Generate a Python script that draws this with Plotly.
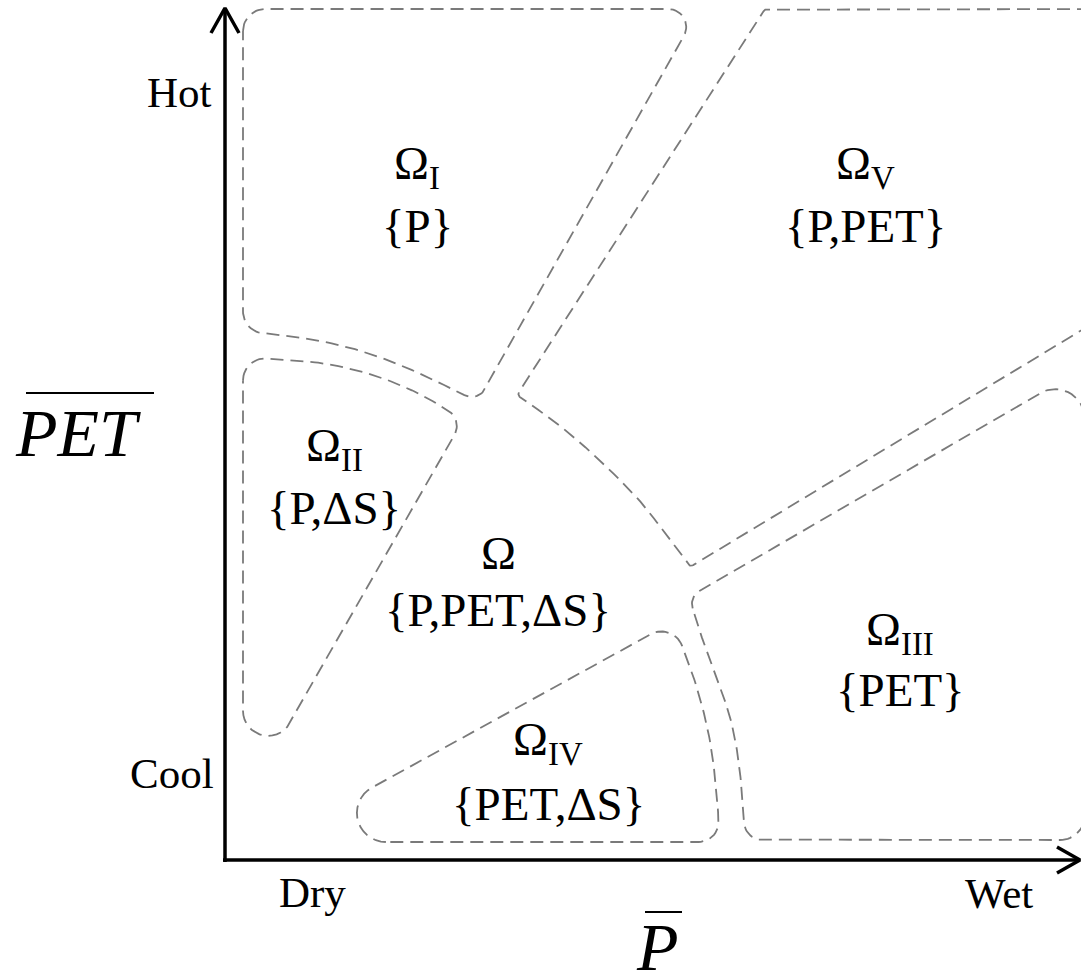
import numpy as np
import plotly.graph_objects as go

# ---------------- data (arbitrary units, origin = axis crossing) ----------------
X_TIP = 855          # end of the P axis (wet)
Y_TIP = 852          # end of the PET axis (hot)
SMOOTH = 99999       # radius meaning "smooth curve point"

# region outlines: vertex x, vertex y, corner radius
omega_I_x = [18, 474, 253, 195, 145, 95, 18]
omega_I_y = [851, 851, 458, 487, 507, 520, 529]
omega_I_r = [22, 18, 16, SMOOTH, SMOOTH, SMOOTH, 22]

omega_II_x = [18, 95, 145, 195, 238, 18]
omega_II_y = [503, 498, 487, 467, 440, 55]
omega_II_r = [22, SMOOTH, SMOOTH, SMOOTH, 18, 25]

omega_V_x = [885, 540, 292, 335, 375, 415, 443, 465, 885]      # open path
omega_V_y = [851, 851, 465, 435, 400, 360, 323, 293, 547]
omega_V_r = [0, 5, 4, SMOOTH, SMOOTH, SMOOTH, SMOOTH, 4, 0]

omega_III_x = [464, 860, 860, 520, 518, 514, 505, 485]
omega_III_y = [263, 493, 20, 20, 55, 100, 147, 197]
omega_III_r = [15, 30, 25, 20, SMOOTH, SMOOTH, SMOOTH, SMOOTH]

omega_IV_x = [48, 448, 472, 486, 492, 495]
omega_IV_y = [18, 238, 175, 118, 65, 18]
omega_IV_r = [29, 22, SMOOTH, SMOOTH, SMOOTH, 20]

# region labels
region_names = ["Ω<sub>I</sub>", "Ω<sub>V</sub>", "Ω<sub>II</sub>", "Ω", "Ω<sub>III</sub>", "Ω<sub>IV</sub>"]
region_sets = ["{P}", "{P,PET}", "{P,ΔS}", "{P,PET,ΔS}", "{PET}", "{PET,ΔS}"]
label_x = [192, 640, 109, 273, 675, 323]
name_y = [694, 694, 412, 307, 228, 118]
set_y = [634, 634, 352, 250, 170, 56]

# axis end labels
end_labels = ["Hot", "Cool", "Dry", "Wet"]
end_x = [-46, -53, 87, 774]
end_y = [768, 87, -32, -33]

# axis titles (with overbar)
title_text = ["PET", "P"]
title_x = [-147, 432]
title_y = [427, -87]
bar_x0 = [-199, 420]
bar_x1 = [-71, 457]
bar_y = [467, -52]

# ---------------- helpers ----------------
def rounded_path(xs, ys, rs, closed=True, n=16):
    P = np.column_stack([xs, ys]).astype(float)
    m = len(P)
    out = []
    for i in range(m):
        v = P[i]
        if not closed and (i == 0 or i == m - 1):
            out.append(v)
            continue
        a = P[(i - 1) % m]
        b = P[(i + 1) % m]
        la = np.linalg.norm(a - v)
        lb = np.linalg.norm(b - v)
        u = (a - v) / la
        w = (b - v) / lb
        th = np.arccos(np.clip(u @ w, -1, 1))
        r = rs[i]
        if r <= 0 or th < 1e-3 or th > np.pi - 1e-4:
            out.append(v)
            continue
        d = r / np.tan(th / 2)
        dmax = 0.5 * min(la, lb)
        if d > dmax:
            d = dmax
            r = d * np.tan(th / 2)
        A = v + u * d
        B = v + w * d
        bis = (u + w) / np.linalg.norm(u + w)
        C = v + bis * (r / np.sin(th / 2))
        t1 = np.arctan2(A[1] - C[1], A[0] - C[0])
        t2 = np.arctan2(B[1] - C[1], B[0] - C[0])
        dt = (t2 - t1 + np.pi) % (2 * np.pi) - np.pi
        ts = t1 + dt * np.linspace(0, 1, n)
        out.extend(C + r * np.column_stack([np.cos(ts), np.sin(ts)]))
    out = np.array(out)
    if closed:
        out = np.vstack([out, out[:1]])
    return out[:, 0], out[:, 1]


fig = go.Figure()

DASH = dict(color="#7a7a7a", width=1.8, dash="13px,7px")
regions = [
    (omega_I_x, omega_I_y, omega_I_r, True),
    (omega_II_x, omega_II_y, omega_II_r, True),
    (omega_V_x, omega_V_y, omega_V_r, False),
    (omega_III_x, omega_III_y, omega_III_r, True),
    (omega_IV_x, omega_IV_y, omega_IV_r, True),
]
for xs, ys, rs, closed in regions:
    px, py = rounded_path(xs, ys, rs, closed)
    fig.add_trace(go.Scatter(x=px, y=py, mode="lines", line=DASH, hoverinfo="skip"))

# axes with open arrow heads
AX = dict(color="black", width=3.5)
fig.add_trace(go.Scatter(x=[-2, X_TIP], y=[0, 0], mode="lines", line=AX, hoverinfo="skip"))
fig.add_trace(go.Scatter(x=[0, 0], y=[-2, Y_TIP], mode="lines", line=AX, hoverinfo="skip"))
fig.add_trace(go.Scatter(x=[X_TIP - 23, X_TIP, X_TIP - 23], y=[13, 0, -13], mode="lines", line=AX, hoverinfo="skip"))
fig.add_trace(go.Scatter(x=[-14, 0, 14], y=[Y_TIP - 25, Y_TIP, Y_TIP - 25], mode="lines", line=AX, hoverinfo="skip"))

# overbars for axis titles
for x0, x1, yb in zip(bar_x0, bar_x1, bar_y):
    fig.add_trace(go.Scatter(x=[x0, x1], y=[yb, yb], mode="lines",
                             line=dict(color="black", width=2), hoverinfo="skip"))

FONT = "Liberation Serif"
ann = []
for t, x, y in zip(region_names, label_x, name_y):
    ann.append(dict(x=x, y=y, text=t, showarrow=False, xanchor="center", yanchor="middle",
                    font=dict(family=FONT, size=47, color="black")))
for t, x, y in zip(region_sets, label_x, set_y):
    ann.append(dict(x=x, y=y, text=t, showarrow=False, xanchor="center", yanchor="middle",
                    font=dict(family=FONT, size=47, color="black")))
for t, x, y in zip(end_labels, end_x, end_y):
    ann.append(dict(x=x, y=y, text=t, showarrow=False, xanchor="center", yanchor="middle",
                    font=dict(family=FONT, size=43, color="black")))
for t, x, y in zip(title_text, title_x, title_y):
    ann.append(dict(x=x, y=y, text="<i>" + t + "</i>", showarrow=False, xanchor="center",
                    yanchor="middle", font=dict(family=FONT, size=68, color="black")))

fig.update_layout(
    width=1081, height=977, margin=dict(l=0, r=0, t=0, b=0),
    paper_bgcolor="white", plot_bgcolor="white", showlegend=False,
    xaxis=dict(range=[-225, 856], visible=False, fixedrange=True),
    yaxis=dict(range=[-117, 860], visible=False, fixedrange=True),
    annotations=ann,
)
fig.write_html("out.html")
